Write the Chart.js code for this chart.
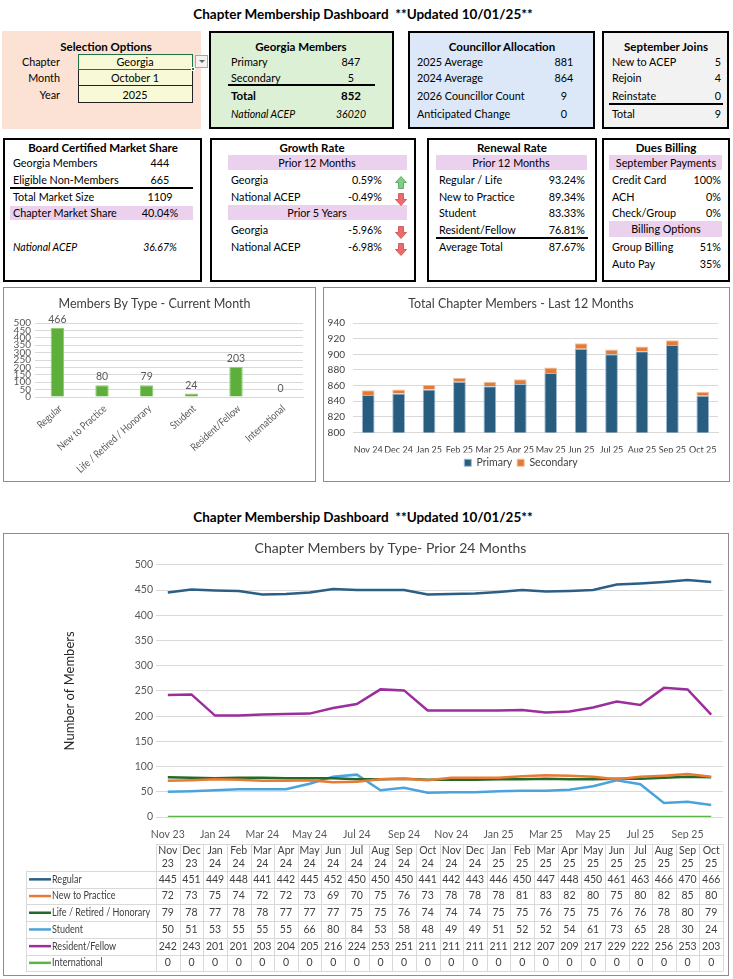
<!DOCTYPE html>
<html>
<head>
<meta charset="utf-8">
<script src="https://cdn.jsdelivr.net/npm/chart.js@4.4.0/dist/chart.umd.min.js"></script>
<style>
  body { margin: 0; background: #fff; }
  #page { position: relative; width: 733px; height: 979px; overflow: hidden; font-family: Lato, "Open Sans", sans-serif; color: #000; }
  .box { position: absolute; box-sizing: border-box; }
  .t { position: absolute; height: 14px; line-height: 14px; font-size: 10.8px; white-space: pre; }
  .b { font-weight: bold; font-size: 11.5px; }
  .i { font-style: italic; font-size: 10.5px; }
  .title { font-size: 13.5px; font-weight: bold; }
  .chartbox { position: absolute; box-sizing: border-box; border: 1.5px solid #8c8c8c; background: #fff; }
  .chartbox canvas { position: absolute; left: 0; top: 0; }
</style>
</head>
<body>
<div id="page"></div>
<script>
// ---- Dashboard values ----
const dashTitle = "Chapter Membership Dashboard  **Updated 10/01/25**";
const selectionLabels = ["Chapter", "Month", "Year"];
const selectionValues = ["Georgia", "October 1", "2025"];
const georgiaRows = [["Primary", "847"], ["Secondary", "5"]];
const georgiaTotal = ["Total", "852"];
const georgiaNational = ["National ACEP", "36020"];
const councillorRows = [["2025 Average", "881"], ["2024 Average", "864"], ["2026 Councillor Count", "9"], ["Anticipated Change", "0"]];
const joinRows = [["New to ACEP", "5"], ["Rejoin", "4"], ["Reinstate", "0"], ["Total", "9"]];
const marketRows = [["Georgia Members", "444"], ["Eligible Non-Members", "665"], ["Total Market Size", "1109"], ["Chapter Market Share", "40.04%"]];
const marketNational = ["National ACEP", "36.67%"];
const growth12 = [["Georgia", "0.59%", "up"], ["National ACEP", "-0.49%", "down"]];
const growth5 = [["Georgia", "-5.96%", "down"], ["National ACEP", "-6.98%", "down"]];
const renewalRows = [["Regular / Life", "93.24%"], ["New to Practice", "89.34%"], ["Student", "83.33%"], ["Resident/Fellow", "76.81%"]];
const renewalAverage = ["Average Total", "87.67%"];
const paymentRows = [["Credit Card", "100%"], ["ACH", "0%"], ["Check/Group", "0%"]];
const billingRows = [["Group Billing", "51%"], ["Auto Pay", "35%"]];

// ---- Chart values ----
const memberTypes = ["Regular", "New to Practice", "Life / Retired / Honorary", "Student", "Resident/Fellow", "International"];
const currentMonthCounts = [466, 80, 79, 24, 203, 0];

const last12Months = ["Nov 24", "Dec 24", "Jan 25", "Feb 25", "Mar 25", "Apr 25", "May 25", "Jun 25", "Jul 25", "Aug 25", "Sep 25", "Oct 25"];
const primaryMembers = [848, 850, 855, 865, 859, 862, 876, 907, 900, 904, 912, 847];
const secondaryMembers = [6, 5, 6, 5, 6, 6, 7, 7, 6, 6, 6, 5];

const months24 = ["Nov 23", "Dec 23", "Jan 24", "Feb 24", "Mar 24", "Apr 24", "May 24", "Jun 24", "Jul 24", "Aug 24", "Sep 24", "Oct 24",
  "Nov 24", "Dec 24", "Jan 25", "Feb 25", "Mar 25", "Apr 25", "May 25", "Jun 25", "Jul 25", "Aug 25", "Sep 25", "Oct 25"];
const regular = [445, 451, 449, 448, 441, 442, 445, 452, 450, 450, 450, 441, 442, 443, 446, 450, 447, 448, 450, 461, 463, 466, 470, 466];
const newToPractice = [72, 73, 75, 74, 72, 72, 73, 69, 70, 75, 76, 73, 78, 78, 78, 81, 83, 82, 80, 75, 80, 82, 85, 80];
const lifeRetired = [79, 78, 77, 78, 78, 77, 77, 77, 75, 75, 76, 74, 74, 74, 75, 75, 76, 75, 75, 76, 76, 78, 80, 79];
const student = [50, 51, 53, 55, 55, 55, 66, 80, 84, 53, 58, 48, 49, 49, 51, 52, 52, 54, 61, 73, 65, 28, 30, 24];
const residentFellow = [242, 243, 201, 201, 203, 204, 205, 216, 224, 253, 251, 211, 211, 211, 211, 212, 207, 209, 217, 229, 222, 256, 253, 203];
const international = [0, 0, 0, 0, 0, 0, 0, 0, 0, 0, 0, 0, 0, 0, 0, 0, 0, 0, 0, 0, 0, 0, 0, 0];

const chartFont = "Lato";
const pink = "#ecd1ee";

const page = document.getElementById("page");

// small helpers for the static boxes
function rect(x, y, w, h, style) {
  const d = document.createElement("div");
  d.className = "box";
  d.style.cssText = "left:" + x + "px;top:" + y + "px;width:" + w + "px;height:" + h + "px;" + (style || "");
  page.appendChild(d);
  return d;
}
function txt(x, y, s, align, cls) {
  const d = document.createElement("div");
  d.className = "t " + (cls || "");
  d.textContent = s;
  if (align === "center") {
    d.style.left = (x - 250) + "px"; d.style.width = "500px"; d.style.textAlign = "center";
  } else if (align === "right") {
    d.style.left = (x - 200) + "px"; d.style.width = "200px"; d.style.textAlign = "right";
  } else {
    d.style.left = x + "px";
  }
  d.style.top = (y - 7) + "px";
  page.appendChild(d);
}
function arrow(x, y, dir) {
  const d = document.createElement("div");
  d.style.cssText = "position:absolute;left:" + x + "px;top:" + (y - 7) + "px;width:12px;height:13px;";
  const up = "6,0.5 11.5,6.5 8.5,6.5 8.5,12.5 3.5,12.5 3.5,6.5 0.5,6.5";
  const down = "3.5,0.5 8.5,0.5 8.5,6.5 11.5,6.5 6,12.5 0.5,6.5 3.5,6.5";
  const fill = dir === "up" ? "#7fcf83" : "#ee6b6b";
  const stroke = dir === "up" ? "#4f9a57" : "#c94a4a";
  d.innerHTML = '<svg width="12" height="13"><polygon points="' + (dir === "up" ? up : down) +
    '" fill="' + fill + '" stroke="' + stroke + '" stroke-width="0.8"/></svg>';
  page.appendChild(d);
}

// ---- Titles ----
txt(363, 14, dashTitle, "center", "title");
txt(363, 517, dashTitle, "center", "title");

// ---- Selection Options ----
rect(2, 31, 199, 98, "background:#fbe2d5");
txt(106, 47, "Selection Options", "center", "b");
const selY = [62, 78, 95];
const selTop = [54, 69, 85];
const selH = [16, 17, 18];
selectionLabels.forEach((l, i) => {
  rect(78, selTop[i], 115, selH[i], "background:#f8f9d6;border:1px solid #222");
  txt(60, selY[i], l, "right");
  txt(135, selY[i], selectionValues[i], "center");
});
rect(78, 54, 115, 16, "border:1.5px solid #217346");
rect(191, 67, 4, 4, "background:#217346;border:1px solid #fff");
rect(195, 55, 13, 13, "background:#f3f3f3;border:1px solid #a6a6a6");
const tri = document.createElement("div");
tri.style.cssText = "position:absolute;left:199px;top:60px;width:0;height:0;border-left:3px solid transparent;border-right:3px solid transparent;border-top:3px solid #666;";
page.appendChild(tri);

// ---- Georgia Members ----
rect(209, 31, 185, 98, "background:#dcf0d6;border:2.5px solid #000");
txt(301, 47, "Georgia Members", "center", "b");
georgiaRows.forEach((r, i) => { txt(231, [62, 78][i], r[0]); txt(351, [62, 78][i], r[1], "center"); });
rect(228, 84, 147, 1.5, "background:#000");
txt(231, 96, georgiaTotal[0], "left", "b");
txt(351, 96, georgiaTotal[1], "center", "b");
txt(231, 114, georgiaNational[0], "left", "i");
txt(351, 114, georgiaNational[1], "center", "i");

// ---- Councillor Allocation ----
rect(408, 31, 187, 98, "background:#dce8f7;border:2.5px solid #000");
txt(502, 47, "Councillor Allocation", "center", "b");
councillorRows.forEach((r, i) => { const y = [62, 78, 96, 114][i]; txt(417, y, r[0]); txt(564, y, r[1], "center"); });

// ---- September Joins ----
rect(602, 31, 127, 98, "background:#f2f2f2;border:2.5px solid #000");
txt(666, 47, "September Joins", "center", "b");
joinRows.forEach((r, i) => { const y = [62, 78, 96, 114][i]; txt(612, y, r[0]); txt(721, y, r[1], "right"); });
rect(609, 103, 114, 1.5, "background:#000");

// ---- Board Certified Market Share ----
rect(3, 138, 199, 144, "border:2.5px solid #000");
txt(103, 148, "Board Certified Market Share", "center", "b");
rect(10, 206, 183, 14, "background:" + pink);
marketRows.forEach((r, i) => { const y = [163, 180, 197, 213][i]; txt(13, y, r[0]); txt(160, y, r[1], "center"); });
rect(10, 187, 183, 1.5, "background:#000");
txt(13, 247, marketNational[0], "left", "i");
txt(160, 247, marketNational[1], "center", "i");

// ---- Growth Rate ----
rect(210, 138, 206, 144, "border:2.5px solid #000");
txt(312, 148, "Growth Rate", "center", "b");
rect(228, 155, 179, 15, "background:" + pink);
rect(228, 205, 179, 15, "background:" + pink);
txt(317, 163, "Prior 12 Months", "center");
txt(317, 213, "Prior 5 Years", "center");
growth12.forEach((r, i) => { const y = [180, 197][i]; txt(231, y, r[0]); txt(382, y, r[1], "right"); arrow(395, y, r[2]); });
growth5.forEach((r, i) => { const y = [230, 247][i]; txt(231, y, r[0]); txt(382, y, r[1], "right"); arrow(395, y, r[2]); });

// ---- Renewal Rate ----
rect(427, 138, 170, 144, "border:2.5px solid #000");
txt(512, 148, "Renewal Rate", "center", "b");
rect(436, 155, 151, 15, "background:" + pink);
txt(511, 163, "Prior 12 Months", "center");
renewalRows.forEach((r, i) => { const y = [180, 197, 213, 230][i]; txt(439, y, r[0]); txt(585, y, r[1], "right"); });
rect(436, 237, 152, 1.5, "background:#000");
txt(439, 247, renewalAverage[0]);
txt(585, 247, renewalAverage[1], "right");

// ---- Dues Billing ----
rect(602, 138, 128, 144, "border:2.5px solid #000");
txt(666, 148, "Dues Billing", "center", "b");
rect(609, 155, 113, 15, "background:" + pink);
rect(609, 221, 113, 16, "background:" + pink);
txt(666, 163, "September Payments", "center");
txt(666, 229, "Billing Options", "center");
paymentRows.forEach((r, i) => { const y = [180, 197, 213][i]; txt(612, y, r[0]); txt(721, y, r[1], "right"); });
billingRows.forEach((r, i) => { const y = [247, 264][i]; txt(612, y, r[0]); txt(721, y, r[1], "right"); });

// ---- chart containers ----
function chartBox(x, y, w, h) {
  const d = rect(x, y, w, h, "");
  d.className = "chartbox";
  const c = document.createElement("canvas");
  c.width = w - 3; c.height = h - 3;
  c.style.width = (w - 3) + "px"; c.style.height = (h - 3) + "px";
  d.appendChild(c);
  return c;
}

// Value above each bar + slanted category names under the axis (narrow, like the sheet font)
const typeLabels = {
  id: "typeLabels",
  afterDatasetsDraw(chart) {
    const ctx = chart.ctx;
    const meta = chart.getDatasetMeta(0);
    const base = chart.chartArea.bottom;
    ctx.save();
    ctx.fillStyle = "#595959";
    ctx.font = "10.5px " + chartFont;
    ctx.textAlign = "center";
    ctx.textBaseline = "bottom";
    meta.data.forEach((bar, i) => {
      ctx.fillText(String(chart.data.datasets[0].data[i]), bar.x, bar.y - 3);
    });
    ctx.font = "10.5px " + chartFont;
    ctx.textAlign = "right";
    ctx.textBaseline = "middle";
    meta.data.forEach((bar, i) => {
      ctx.save();
      ctx.translate(bar.x + 3, base + 10);
      ctx.rotate(-Math.PI / 4.3);
      ctx.scale(0.84, 1);
      ctx.fillText(chart.data.labels[i], 0, 0);
      ctx.restore();
    });
    ctx.restore();
  },
};

// Members By Type - Current Month
const typeCanvas = chartBox(3, 287, 313, 195);
new Chart(typeCanvas, {
  type: "bar",
  data: {
    labels: memberTypes,
    datasets: [{
      data: currentMonthCounts,
      backgroundColor: "#5eae3c",
      borderColor: "#8ccf6c",
      borderWidth: 1,
      barPercentage: 0.3,
      categoryPercentage: 1,
    }],
  },
  options: {
    responsive: false,
    animation: false,
    layout: { padding: { left: 2, right: 11, top: 0, bottom: 83 } },
    plugins: {
      legend: { display: false },
      tooltip: { enabled: false },
      title: {
        display: true,
        text: "Members By Type - Current Month",
        color: "#404040",
        font: { family: chartFont, size: 12.5, weight: "normal" },
        padding: { top: 8, bottom: 12 },
      },
    },
    scales: {
      x: {
        grid: { display: false, drawTicks: false },
        border: { color: "#d9d9d9" },
        ticks: { display: false },
      },
      y: {
        min: 0,
        max: 500,
        ticks: { stepSize: 50, autoSkip: false, color: "#595959", font: { family: chartFont, size: 10 }, padding: 4 },
        grid: { color: "#d9d9d9", drawTicks: false },
        border: { display: false },
        afterFit: function (scale) { scale.width = 29; },
      },
    },
  },
  plugins: [typeLabels],
});

// Total Chapter Members - Last 12 Months
const totalCanvas = chartBox(323, 287, 407, 195);
new Chart(totalCanvas, {
  type: "bar",
  data: {
    labels: last12Months,
    datasets: [
      { label: "Primary", data: primaryMembers, backgroundColor: "#285d80", borderColor: "#9dbad2", borderWidth: 1, clip: 0 },
      { label: "Secondary", data: secondaryMembers, backgroundColor: "#e37b38", borderColor: "#f3c09e", borderWidth: 1, clip: 0 },
    ],
  },
  options: {
    responsive: false,
    animation: false,
    datasets: { bar: { barPercentage: 0.42, categoryPercentage: 1 } },
    layout: { padding: { left: 0, right: 10, top: 0, bottom: 2 } },
    plugins: {
      tooltip: { enabled: false },
      title: {
        display: true,
        text: "Total Chapter Members - Last 12 Months",
        color: "#404040",
        font: { family: chartFont, size: 12.5, weight: "normal" },
        padding: { top: 8, bottom: 12 },
      },
      legend: {
        position: "bottom",
        labels: { boxWidth: 7, boxHeight: 7, color: "#404040", font: { family: chartFont, size: 10.5 }, padding: 5 },
      },
    },
    scales: {
      x: {
        stacked: true,
        grid: { display: false },
        border: { color: "#d9d9d9" },
        ticks: { color: "#404040", font: { family: chartFont, size: 9 }, maxRotation: 0, autoSkip: false, padding: 4 },
        afterFit: function (scale) { scale.height = 20; },
      },
      y: {
        stacked: true,
        min: 800,
        max: 940,
        ticks: { stepSize: 20, autoSkip: false, color: "#404040", font: { family: chartFont, size: 10 }, padding: 8 },
        grid: { color: "#d9d9d9", drawTicks: false },
        border: { display: false },
        afterFit: function (scale) { scale.width = 29; },
      },
    },
  },
});

// Chapter Members by Type - Prior 24 Months (with its data table)
const typeSeries = [
  { label: "Regular", data: regular, color: "#2b5f86" },
  { label: "New to Practice", data: newToPractice, color: "#e97a34" },
  { label: "Life / Retired / Honorary", data: lifeRetired, color: "#23692a" },
  { label: "Student", data: student, color: "#4ba3dc" },
  { label: "Resident/Fellow", data: residentFellow, color: "#9c2d9c" },
  { label: "International", data: international, color: "#5db346" },
];

const dataTable = {
  id: "dataTable",
  afterDraw(chart) {
    const ctx = chart.ctx;
    const xs = chart.scales.x;
    const half = (xs.getPixelForValue(1) - xs.getPixelForValue(0)) / 2;
    const colLeft = xs.getPixelForValue(0) - half;
    const colRight = xs.getPixelForValue(months24.length - 1) + half;
    const top = 310, headH = 27, rowH = 16.7, legLeft = 22;
    const bottom = top + headH + rowH * typeSeries.length;

    ctx.save();
    ctx.strokeStyle = "#d9d9d9";
    ctx.lineWidth = 1;
    ctx.beginPath();
    for (let i = 0; i <= months24.length; i++) {
      const px = Math.round(colLeft + i * 2 * half) + 0.5;
      ctx.moveTo(px, top); ctx.lineTo(px, bottom);
    }
    ctx.moveTo(colLeft, top + 0.5); ctx.lineTo(colRight, top + 0.5);
    for (let r = 0; r <= typeSeries.length; r++) {
      const py = Math.round(top + headH + r * rowH) + 0.5;
      ctx.moveTo(legLeft, py); ctx.lineTo(colRight, py);
    }
    ctx.moveTo(legLeft + 0.5, top + headH); ctx.lineTo(legLeft + 0.5, bottom);
    ctx.stroke();

    ctx.fillStyle = "#404040";
    ctx.font = "10.5px " + chartFont;
    ctx.textAlign = "center";
    ctx.textBaseline = "middle";
    months24.forEach((m, i) => {
      const px = xs.getPixelForValue(i);
      const parts = m.split(" ");
      ctx.fillText(parts[0], px, top + 7);
      ctx.fillText(parts[1], px, top + 20);
    });
    typeSeries.forEach((s, r) => {
      const cy = top + headH + r * rowH + rowH / 2;
      s.data.forEach((v, i) => ctx.fillText(String(v), xs.getPixelForValue(i), cy));
      ctx.strokeStyle = s.color;
      ctx.lineWidth = 2.5;
      ctx.beginPath();
      ctx.moveTo(legLeft + 3, cy); ctx.lineTo(legLeft + 25, cy);
      ctx.stroke();
      // row label, slightly condensed like the narrow sheet font
      ctx.save();
      ctx.translate(legLeft + 26, cy);
      ctx.scale(0.86, 1);
      ctx.textAlign = "left";
      ctx.fillText(s.label, 0, 0);
      ctx.restore();
    });
    ctx.restore();
  },
};

const lineCanvas = chartBox(3, 533, 726, 443);
new Chart(lineCanvas, {
  type: "line",
  data: {
    labels: months24,
    datasets: typeSeries.map((s) => ({
      label: s.label,
      data: s.data,
      borderColor: s.color,
      backgroundColor: s.color,
      borderWidth: 2.5,
      pointRadius: 0,
      tension: 0,
    })),
  },
  options: {
    responsive: false,
    animation: false,
    layout: { padding: { left: 54, right: 4, top: 0, bottom: 135 } },
    plugins: {
      legend: { display: false },
      tooltip: { enabled: false },
      title: {
        display: true,
        text: "Chapter Members by Type- Prior 24 Months",
        color: "#404040",
        font: { family: chartFont, size: 14, weight: "normal" },
        padding: { top: 6, bottom: 8 },
      },
    },
    scales: {
      x: {
        offset: true,
        grid: { display: false },
        border: { display: false },
        ticks: {
          color: "#595959",
          font: { family: chartFont, size: 10.5 },
          maxRotation: 0,
          autoSkip: false,
          callback: function (value, index) {
            return index % 2 === 0 ? this.getLabelForValue(value) : "";
          },
        },
        afterFit: function (scale) { scale.height = 22; },
      },
      y: {
        min: 0,
        max: 500,
        ticks: { stepSize: 50, color: "#595959", font: { family: chartFont, size: 10.5 }, padding: 3 },
        grid: { color: "#d9d9d9", drawTicks: false },
        border: { display: false },
        title: { display: true, text: "Number of Members", color: "#262626", font: { family: chartFont, size: 13 } },
        afterFit: function (scale) { scale.width = 98; },
      },
    },
  },
  plugins: [dataTable],
});
</script>
</body>
</html>
